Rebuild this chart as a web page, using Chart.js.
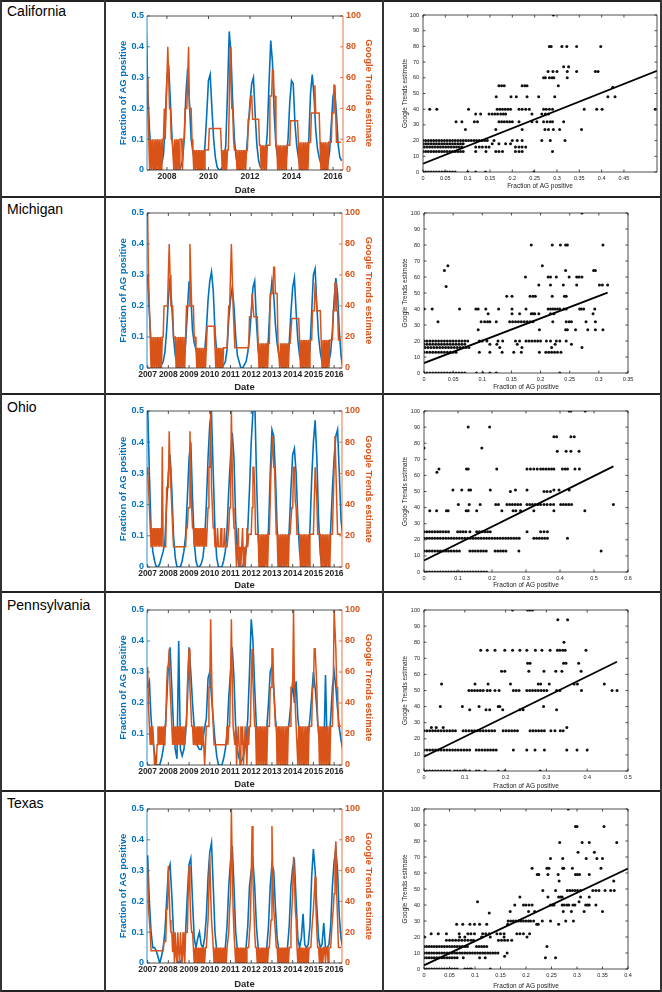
<!DOCTYPE html>
<html>
<head>
<meta charset="utf-8">
<script src="https://cdn.jsdelivr.net/npm/chart.js@4.4.1/dist/chart.umd.min.js"></script>
<style>
  html, body { margin: 0; padding: 0; background: #fff; }
  #page { position: relative; width: 662px; height: 992px; overflow: hidden; font-family: "Liberation Sans", Arial, sans-serif; }
  .hl { position: absolute; left: 0; width: 662px; height: 2px; background: #222; }
  .vl { position: absolute; top: 0; width: 2px; height: 992px; background: #333; }
  .state { position: absolute; left: 7px; font-size: 14px; line-height: 16px; color: #000; }
  canvas { position: absolute; }
</style>
</head>
<body>
<div id="page"></div>
<script>
// ── Weekly-ish series: AG fraction monthly, Trends half-monthly, from Jan 2007 ──
const YEAR0 = 2007;
const STATES = ["California", "Michigan", "Ohio", "Pennsylvania", "Texas"];

const caAG = [
  0.45,0.25,0.12,0.05,0.02,0.01,0.00,0.00,0.01,0.02,0.05,0.15,
  0.30,0.34,0.22,0.10,0.04,0.01,0.00,0.00,0.01,0.03,0.10,0.25,
  0.33,0.22,0.10,0.06,0.03,0.02,0.01,0.00,0.00,0.02,0.08,0.18,
  0.29,0.31,0.20,0.10,0.04,0.01,0.00,0.00,0.01,0.03,0.08,0.25,
  0.45,0.38,0.22,0.10,0.04,0.01,0.00,0.00,0.01,0.02,0.06,0.14,
  0.22,0.28,0.30,0.18,0.08,0.03,0.01,0.01,0.02,0.05,0.12,0.28,
  0.42,0.35,0.18,0.08,0.04,0.02,0.01,0.01,0.02,0.04,0.10,0.22,
  0.29,0.28,0.15,0.08,0.04,0.01,0.00,0.00,0.01,0.03,0.10,0.25,
  0.31,0.24,0.13,0.07,0.04,0.02,0.01,0.00,0.01,0.02,0.06,0.15,
  0.24,0.26,0.18,0.08,0.04,0.03
];
const caGT = [
  100,60,40,20,0,20,0,20,0,20,0,20,0,20,0,20,0,20,0,20,20,40,20,40,
  40,80,60,40,40,20,20,20,0,20,0,20,0,20,0,20,20,20,0,20,20,40,40,40,
  60,80,40,40,40,20,13,0,13,0,13,0,13,0,13,0,13,0,13,0,13,13,13,13,
  13,27,27,27,27,27,27,27,27,27,27,27,27,27,27,13,0,13,0,13,13,0,13,13,
  40,80,60,40,40,20,13,13,13,0,13,0,13,0,13,0,13,0,13,0,13,13,33,33,
  33,48,48,33,33,33,33,33,33,33,33,16,16,0,16,0,16,0,16,0,16,16,16,48,
  48,48,65,65,48,48,16,16,0,16,0,16,0,16,0,16,0,16,0,16,16,16,16,32,
  32,32,32,32,32,32,32,32,18,0,18,0,18,0,18,0,18,0,18,0,18,18,18,37,
  37,37,37,55,37,37,37,37,37,18,0,18,0,18,0,18,0,18,0,18,18,18,18,37,
  37,55,55,37,18,18,18,18,18,18
];

const miAG = [
  0.30,0.18,0.08,0.05,0.03,0.02,0.01,0.00,0.01,0.02,0.05,0.12,
  0.22,0.29,0.20,0.10,0.04,0.02,0.00,0.00,0.01,0.03,0.08,0.18,
  0.28,0.24,0.12,0.08,0.06,0.03,0.02,0.01,0.02,0.05,0.12,0.22,
  0.28,0.31,0.25,0.12,0.05,0.02,0.00,0.00,0.01,0.02,0.06,0.16,
  0.22,0.26,0.20,0.10,0.04,0.02,0.00,0.00,0.01,0.02,0.05,0.10,
  0.18,0.26,0.28,0.15,0.06,0.02,0.01,0.00,0.01,0.03,0.10,0.22,
  0.28,0.24,0.14,0.08,0.04,0.02,0.01,0.00,0.01,0.03,0.08,0.18,
  0.26,0.29,0.18,0.09,0.04,0.02,0.00,0.00,0.01,0.02,0.06,0.18,
  0.30,0.32,0.20,0.10,0.05,0.02,0.00,0.00,0.01,0.02,0.05,0.12,
  0.22,0.29,0.24,0.12,0.04,0.00
];
const miGT = [
  100,60,40,20,0,20,0,20,0,20,0,20,0,20,0,20,0,20,20,40,40,40,40,40,
  60,80,60,40,40,40,20,20,20,0,20,0,20,0,20,0,20,0,20,0,20,40,40,40,
  40,80,60,40,40,40,20,20,13,0,13,0,13,0,13,0,13,0,13,0,13,27,27,27,
  27,27,27,27,27,27,13,0,13,0,13,0,13,0,13,0,13,13,13,13,13,13,40,40,
  60,80,60,40,40,13,13,13,13,13,13,13,13,13,13,13,13,13,13,13,13,13,33,33,
  33,48,48,33,33,33,33,33,16,0,16,0,16,0,16,0,16,0,16,0,16,16,48,48,
  48,48,65,65,48,48,48,16,16,0,16,0,16,0,16,0,16,0,16,0,16,16,16,32,
  32,32,32,32,32,32,32,32,18,0,18,0,18,0,18,0,18,0,18,0,18,18,18,37,
  37,37,55,55,37,37,37,37,37,18,0,18,0,18,0,18,0,18,0,18,18,18,18,37,
  37,55,55,37,37,18,18,18,18,18
];

const ohAG = [
  0.52,0.30,0.12,0.05,0.02,0.00,0.00,0.01,0.03,0.05,0.08,0.20,
  0.30,0.36,0.25,0.10,0.03,0.00,0.00,0.00,0.02,0.05,0.10,0.22,
  0.35,0.40,0.22,0.08,0.02,0.00,0.00,0.01,0.03,0.08,0.20,0.35,
  0.46,0.49,0.30,0.12,0.03,0.00,0.00,0.00,0.02,0.05,0.12,0.25,
  0.35,0.43,0.35,0.15,0.04,0.00,0.00,0.00,0.02,0.05,0.12,0.25,
  0.40,0.50,0.55,0.30,0.10,0.02,0.00,0.00,0.02,0.05,0.12,0.30,
  0.44,0.42,0.30,0.12,0.04,0.00,0.00,0.00,0.02,0.05,0.12,0.25,
  0.36,0.38,0.30,0.15,0.05,0.01,0.00,0.00,0.02,0.05,0.12,0.28,
  0.40,0.47,0.35,0.15,0.04,0.00,0.00,0.00,0.02,0.05,0.12,0.25,
  0.35,0.42,0.44,0.30,0.15,0.10
];
const ohGT = [
  64,51,38,25,13,25,13,25,13,25,13,25,13,25,13,25,13,77,13,13,13,13,51,51,
  51,87,64,51,38,25,13,13,13,13,13,13,13,13,13,13,13,13,13,13,13,25,25,38,
  38,87,64,38,25,25,13,25,13,25,13,25,13,25,13,25,13,25,13,25,13,25,38,64,
  64,100,51,38,25,25,13,13,13,25,13,13,13,25,13,13,13,25,13,13,13,13,25,38,
  38,100,64,38,25,25,13,0,13,25,0,13,0,13,25,0,13,0,13,25,13,21,21,21,
  21,38,64,64,51,21,21,21,21,0,21,0,21,0,21,0,21,0,21,0,21,21,42,64,
  64,84,64,64,42,21,21,0,21,0,21,0,21,0,21,0,21,0,21,0,21,21,21,38,
  38,64,64,42,38,21,21,21,21,0,21,0,21,0,21,0,21,0,21,0,21,21,21,21,
  21,42,64,64,42,21,21,21,21,0,21,0,21,0,21,0,21,0,21,0,21,21,21,42,
  64,84,64,42,21,21,21,21,21,21
];

const paAG = [
  0.25,0.27,0.15,0.08,0.04,0.00,0.00,0.00,0.02,0.05,0.10,0.20,
  0.32,0.38,0.25,0.12,0.05,0.02,0.40,0.05,0.03,0.05,0.10,0.20,
  0.38,0.30,0.20,0.12,0.08,0.06,0.05,0.05,0.08,0.12,0.15,0.28,
  0.30,0.22,0.15,0.08,0.03,0.00,0.00,0.00,0.02,0.05,0.10,0.22,
  0.30,0.38,0.28,0.12,0.05,0.02,0.01,0.02,0.04,0.08,0.15,0.30,
  0.47,0.40,0.25,0.12,0.06,0.04,0.03,0.05,0.08,0.12,0.20,0.30,
  0.32,0.25,0.15,0.10,0.08,0.05,0.04,0.04,0.08,0.10,0.14,0.20,
  0.27,0.20,0.27,0.15,0.10,0.05,0.04,0.04,0.06,0.10,0.15,0.22,
  0.30,0.25,0.18,0.10,0.06,0.03,0.02,0.29,0.05,0.08,0.15,0.25,
  0.30,0.25,0.18,0.12,0.08,0.05
];
const paGT = [
  63,38,25,13,25,13,25,13,0,0,0,13,25,13,25,13,25,13,25,13,25,25,50,63,
  63,75,50,38,25,13,25,13,25,13,25,13,25,13,25,13,25,13,25,13,25,25,50,63,
  75,50,38,25,25,13,25,13,25,13,25,13,25,13,25,13,25,13,0,13,25,25,25,50,
  50,94,63,38,25,13,13,13,13,13,13,13,13,13,13,13,13,13,13,13,25,13,25,25,
  54,94,54,25,25,13,25,0,13,25,13,0,25,13,25,0,13,25,13,0,25,13,25,25,
  54,75,54,38,25,25,0,25,0,25,0,25,0,25,0,25,0,25,0,25,25,25,50,50,
  75,75,50,38,25,25,0,25,0,25,0,25,0,25,0,25,0,25,0,25,25,25,50,50,
  50,100,50,38,25,25,0,25,0,25,0,25,0,25,0,25,0,25,0,25,25,25,25,50,
  50,75,75,75,50,25,25,0,25,0,25,0,25,0,25,0,25,0,25,0,25,25,25,50,
  100,100,75,50,50,25,25,25,25,25
];

const txAG = [
  0.35,0.20,0.10,0.05,0.05,0.04,0.02,0.00,0.02,0.05,0.10,0.20,
  0.30,0.32,0.22,0.10,0.04,0.01,0.00,0.00,0.02,0.05,0.10,0.22,
  0.32,0.34,0.20,0.08,0.05,0.08,0.10,0.06,0.05,0.08,0.15,0.28,
  0.36,0.39,0.25,0.10,0.04,0.00,0.00,0.00,0.02,0.05,0.12,0.25,
  0.33,0.38,0.25,0.10,0.04,0.00,0.00,0.00,0.02,0.05,0.12,0.25,
  0.30,0.33,0.25,0.12,0.05,0.01,0.00,0.00,0.02,0.05,0.12,0.25,
  0.32,0.30,0.18,0.08,0.04,0.01,0.00,0.00,0.02,0.05,0.12,0.25,
  0.31,0.33,0.20,0.08,0.05,0.08,0.16,0.06,0.05,0.06,0.12,0.28,
  0.37,0.30,0.18,0.08,0.05,0.06,0.13,0.05,0.05,0.06,0.12,0.25,
  0.33,0.37,0.30,0.15,0.08,0.05
];
const txGT = [
  64,35,28,20,8,8,8,8,8,8,8,8,8,8,8,8,8,8,8,14,14,14,35,35,
  63,45,28,20,20,7,20,0,20,7,0,20,7,0,20,7,0,20,7,0,20,20,20,45,
  63,45,28,20,20,10,0,10,0,10,0,10,0,10,0,10,0,10,0,10,10,20,28,28,
  70,45,28,20,10,0,10,0,10,0,10,0,10,0,10,0,10,0,10,0,10,10,20,35,
  45,100,63,35,20,10,0,10,0,10,0,10,0,10,0,10,0,10,0,10,10,10,20,28,
  55,89,55,35,20,10,10,0,10,0,10,0,10,0,10,0,10,0,10,0,10,10,20,28,
  89,55,35,28,20,10,10,0,10,0,10,0,10,0,10,0,10,0,10,0,10,10,20,35,
  45,69,55,35,28,10,0,10,0,10,0,10,0,10,0,10,0,10,0,10,10,10,20,28,
  35,45,56,35,20,10,10,0,10,0,10,0,10,10,0,10,10,0,10,10,10,20,28,35,
  45,70,79,45,28,10,10,10,10,10
];

// ── Scatter points, grouped by Trends level: [trends, fraction, fraction, ...] ──
const caPairs = [
  [100, 0.292],
  [80, 0.283, 0.287, 0.311, 0.322, 0.344, 0.398],
  [67, 0.315, 0.326],
  [64, 0.280, 0.291, 0.300, 0.323, 0.344, 0.386, 0.392],
  [60, 0.270, 0.274, 0.283, 0.289, 0.293, 0.323],
  [55, 0.170, 0.176, 0.182, 0.222, 0.228, 0.233, 0.303],
  [54, 0.425],
  [48, 0.164, 0.197, 0.209, 0.233, 0.259, 0.295, 0.414, 0.430],
  [40, 0.015, 0.031, 0.102, 0.166, 0.172, 0.178, 0.184, 0.190, 0.196, 0.215, 0.222, 0.230, 0.238, 0.270, 0.276, 0.283, 0.290, 0.361, 0.389, 0.401, 0.520],
  [37, 0.118, 0.129, 0.148, 0.155, 0.161, 0.167, 0.174, 0.180, 0.185, 0.244, 0.266, 0.274, 0.281],
  [32, 0.074, 0.087, 0.115, 0.122, 0.170, 0.176, 0.182, 0.188, 0.194, 0.200, 0.215, 0.244, 0.255, 0.270, 0.278, 0.285, 0.290, 0.315],
  [27, 0.095, 0.163, 0.222, 0.273, 0.281, 0.292, 0.306, 0.355],
  [20, 0, 0.006, 0.012, 0.018, 0.024, 0.030, 0.036, 0.042, 0.048, 0.054, 0.060, 0.066, 0.072, 0.078, 0.084, 0.090, 0.096, 0.102, 0.108, 0.114, 0.120, 0.126, 0.132, 0.138, 0.144, 0.159, 0.200, 0.211, 0.222, 0.266, 0.285, 0.318],
  [18, 0, 0.006, 0.012, 0.018, 0.024, 0.030, 0.036, 0.042, 0.048, 0.054, 0.060, 0.066, 0.072, 0.078, 0.084, 0.090, 0.155, 0.170, 0.185, 0.196],
  [16, 0.003, 0.009, 0.015, 0.021, 0.027, 0.033, 0.039, 0.045, 0.051, 0.057, 0.063, 0.069, 0.075, 0.081, 0.087, 0.118, 0.126, 0.133, 0.141, 0.148, 0.207, 0.215, 0.222, 0.230],
  [13, 0, 0.006, 0.012, 0.018, 0.024, 0.030, 0.036, 0.042, 0.048, 0.054, 0.060, 0.066, 0.072, 0.078, 0.084, 0.090, 0.118, 0.141, 0.163, 0.170, 0.178, 0.207, 0.215, 0.222, 0.290],
  [0, 0, 0.006, 0.012, 0.018, 0.024, 0.030, 0.036, 0.042, 0.048, 0.054, 0.060, 0.066, 0.072, 0.100, 0.118, 0.140, 0.248]
];
const miPairs = [
  [100, 0.271],
  [80, 0.184, 0.220, 0.234, 0.243, 0.246, 0.307],
  [67, 0.041, 0.203],
  [64, 0.035, 0.243, 0.291, 0.294],
  [60, 0.174, 0.213, 0.217, 0.227, 0.249, 0.262, 0.266, 0.271],
  [55, 0.197, 0.217, 0.239, 0.262, 0.301, 0.306, 0.315],
  [54, 0.038],
  [48, 0.142, 0.151, 0.182, 0.187, 0.191, 0.220, 0.241, 0.244],
  [40, 0, 0.014, 0.061, 0.089, 0.093, 0.106, 0.128, 0.151, 0.175, 0.213, 0.217, 0.221, 0.225, 0.229, 0.233, 0.240, 0.244, 0.267, 0.270, 0.274, 0.293],
  [37, 0.110, 0.151, 0.164, 0.184, 0.187, 0.190, 0.197, 0.217, 0.223, 0.290],
  [32, 0.024, 0.098, 0.104, 0.109, 0.113, 0.124, 0.147, 0.152, 0.157, 0.162, 0.167, 0.172, 0.177, 0.182, 0.187, 0.221, 0.244, 0.249, 0.253, 0.278, 0.294],
  [27, 0.093, 0.198, 0.243, 0.246, 0.260, 0.281, 0.294, 0.307],
  [20, 0, 0.005, 0.010, 0.015, 0.020, 0.025, 0.030, 0.035, 0.040, 0.045, 0.050, 0.055, 0.060, 0.065, 0.070, 0.075, 0.095, 0.100, 0.108, 0.127, 0.135, 0.157, 0.164, 0.175, 0.180, 0.185, 0.190, 0.195, 0.200, 0.210, 0.217, 0.227, 0.233, 0.244],
  [18, 0, 0.005, 0.010, 0.015, 0.020, 0.025, 0.030, 0.035, 0.040, 0.045, 0.050, 0.055, 0.060, 0.065, 0.070, 0.113, 0.125, 0.160, 0.225, 0.253],
  [16, 0.002, 0.007, 0.012, 0.017, 0.022, 0.027, 0.032, 0.037, 0.042, 0.047, 0.052, 0.057, 0.062, 0.067, 0.072, 0.077, 0.130, 0.168, 0.219, 0.271],
  [13, 0, 0.005, 0.010, 0.015, 0.020, 0.025, 0.030, 0.035, 0.040, 0.045, 0.050, 0.055, 0.095, 0.113, 0.134, 0.154, 0.167, 0.198, 0.209, 0.214, 0.219, 0.224, 0.229, 0.235],
  [0, 0, 0.005, 0.010, 0.015, 0.020, 0.025, 0.030, 0.035, 0.040, 0.045, 0.050, 0.055, 0.060, 0.065, 0.070, 0.090, 0.101, 0.113, 0.124, 0.233]
];
const ohPairs = [
  [100, 0.427, 0.432, 0.474],
  [90, 0.130, 0.193],
  [84, 0.382, 0.390, 0.432, 0.442],
  [77, 0, 0.170],
  [75, 0.392, 0.418, 0.432, 0.456],
  [64, 0.044, 0.125, 0.130, 0.214, 0.303, 0.313, 0.323, 0.333, 0.343, 0.351, 0.359, 0.367, 0.375, 0.382, 0.407, 0.415, 0.422, 0.444, 0.457],
  [62, 0.038],
  [51, 0.085, 0.111, 0.132, 0.137, 0.195, 0.269, 0.303, 0.382, 0.397, 0.427],
  [50, 0.254, 0.353, 0.362, 0.372],
  [42, 0.101, 0.133, 0.165, 0.211, 0.219, 0.244, 0.252, 0.260, 0.268, 0.276, 0.284, 0.303, 0.311, 0.319, 0.327, 0.335, 0.343, 0.353, 0.362, 0.372, 0.381, 0.402, 0.410, 0.418, 0.426, 0.434, 0.557],
  [38, 0.017, 0.037, 0.066, 0.071, 0.124, 0.130, 0.155, 0.229, 0.262, 0.270, 0.284, 0.323, 0.382, 0.473],
  [25, 0, 0.008, 0.016, 0.024, 0.032, 0.040, 0.048, 0.056, 0.064, 0.072, 0.099, 0.107, 0.115, 0.123, 0.135, 0.155, 0.163, 0.171, 0.179, 0.187, 0.195, 0.303, 0.343, 0.353, 0.363],
  [21, 0, 0.008, 0.016, 0.024, 0.032, 0.040, 0.048, 0.056, 0.064, 0.072, 0.080, 0.088, 0.096, 0.104, 0.112, 0.120, 0.128, 0.136, 0.144, 0.152, 0.160, 0.168, 0.176, 0.184, 0.192, 0.200, 0.208, 0.216, 0.224, 0.232, 0.240, 0.248, 0.256, 0.264, 0.272, 0.280, 0.323, 0.331, 0.339, 0.347, 0.355, 0.363, 0.422],
  [13, 0, 0.008, 0.016, 0.024, 0.032, 0.040, 0.048, 0.056, 0.064, 0.072, 0.080, 0.088, 0.096, 0.104, 0.135, 0.143, 0.151, 0.159, 0.167, 0.175, 0.183, 0.209, 0.217, 0.225, 0.233, 0.241, 0.279, 0.521],
  [0, 0, 0.008, 0.016, 0.024, 0.032, 0.040, 0.048, 0.056, 0.064, 0.072, 0.080, 0.088, 0.096, 0.104, 0.112, 0.120, 0.128, 0.136, 0.144, 0.152, 0.160, 0.168, 0.176, 0.184]
];
const paPairs = [
  [100, 0.217, 0.254, 0.260, 0.266],
  [94, 0.328, 0.352],
  [80, 0.343],
  [75, 0.139, 0.155, 0.174, 0.198, 0.217, 0.235, 0.252, 0.273, 0.289, 0.309, 0.327, 0.333, 0.340, 0.346, 0.397],
  [67, 0.254, 0.260, 0.342, 0.348, 0.379],
  [62, 0.190, 0.198, 0.257, 0.294, 0.323, 0.338, 0.385],
  [54, 0.043, 0.125, 0.157, 0.212, 0.280, 0.286, 0.307, 0.368, 0.376, 0.442],
  [50, 0.110, 0.117, 0.124, 0.131, 0.138, 0.145, 0.155, 0.162, 0.174, 0.184, 0.219, 0.226, 0.233, 0.252, 0.259, 0.266, 0.273, 0.280, 0.287, 0.294, 0.301, 0.325, 0.333, 0.386, 0.461, 0.473],
  [40, 0.040, 0.094, 0.135, 0.182, 0.186, 0.293],
  [38, 0.112, 0.152, 0.161, 0.193, 0.235, 0.243, 0.325],
  [27, 0.018, 0.030, 0.047, 0.350],
  [25, 0, 0.007, 0.014, 0.021, 0.028, 0.035, 0.042, 0.049, 0.056, 0.063, 0.070, 0.077, 0.096, 0.103, 0.110, 0.117, 0.124, 0.131, 0.138, 0.145, 0.152, 0.159, 0.166, 0.173, 0.194, 0.201, 0.208, 0.215, 0.222, 0.229, 0.260, 0.267, 0.274, 0.281, 0.288, 0.295, 0.311, 0.321, 0.334, 0.341],
  [13, 0, 0.007, 0.014, 0.021, 0.028, 0.035, 0.042, 0.049, 0.056, 0.063, 0.070, 0.077, 0.084, 0.091, 0.098, 0.105, 0.112, 0.128, 0.135, 0.142, 0.149, 0.156, 0.163, 0.170, 0.177, 0.219, 0.252, 0.272, 0.295, 0.350, 0.375, 0.400],
  [0, 0, 0.007, 0.014, 0.021, 0.028, 0.035, 0.042, 0.049, 0.056, 0.063, 0.075, 0.082, 0.089, 0.096, 0.103, 0.112, 0.128, 0.135, 0.150, 0.182, 0.198, 0.285]
];
const txPairs = [
  [100, 0.283],
  [89, 0.297, 0.300, 0.353],
  [79, 0.266, 0.310, 0.324, 0.378],
  [73, 0.302, 0.334],
  [69, 0.248, 0.272, 0.318, 0.339, 0.350],
  [63, 0.212, 0.241, 0.245, 0.272, 0.274, 0.291, 0.347],
  [59, 0.222, 0.225, 0.243, 0.263, 0.297, 0.301, 0.305, 0.324],
  [55, 0.265, 0.372],
  [49, 0.233, 0.258, 0.281, 0.286, 0.291, 0.296, 0.301, 0.307, 0.331, 0.337, 0.343, 0.355, 0.366, 0.373],
  [45, 0.188, 0.243, 0.264, 0.268, 0.271, 0.307, 0.324],
  [42, 0.105, 0.304],
  [40, 0.178, 0.195, 0.200, 0.206, 0.212, 0.248, 0.252, 0.255, 0.271, 0.275, 0.280, 0.284, 0.292, 0.296, 0.317, 0.321, 0.324, 0.337],
  [36, 0.169, 0.205, 0.217, 0.273, 0.289, 0.314, 0.350],
  [35, 0.128],
  [30, 0.165, 0.170, 0.175, 0.180, 0.185, 0.190, 0.195, 0.200, 0.205, 0.209, 0.215, 0.232, 0.248, 0.278, 0.293],
  [28, 0.064, 0.076, 0.090, 0.099, 0.109, 0.123, 0.164, 0.221, 0.224, 0.264],
  [22, 0.014, 0.028, 0.044, 0.069, 0.086, 0.092, 0.099, 0.115, 0.121, 0.128, 0.143, 0.150, 0.157, 0.182, 0.188, 0.195, 0.207],
  [20, 0.001, 0.070, 0.080, 0.113, 0.130, 0.157, 0.202],
  [18, 0.044, 0.050, 0.056, 0.062, 0.068, 0.074, 0.080, 0.086, 0.092, 0.097, 0.146, 0.152, 0.158, 0.164, 0.172],
  [14, 0, 0.005, 0.010, 0.015, 0.020, 0.025, 0.030, 0.035, 0.040, 0.045, 0.050, 0.055, 0.060, 0.065, 0.070, 0.075, 0.080, 0.085, 0.103, 0.108, 0.113, 0.118, 0.123, 0.241],
  [10, 0, 0.005, 0.010, 0.015, 0.020, 0.025, 0.030, 0.035, 0.040, 0.045, 0.050, 0.055, 0.060, 0.065, 0.070, 0.075, 0.080, 0.085, 0.090, 0.095, 0.100, 0.105, 0.110, 0.115, 0.120, 0.125, 0.130, 0.135, 0.140, 0.145, 0.163],
  [8, 0.158],
  [7, 0, 0.005, 0.010, 0.015, 0.020, 0.025, 0.030, 0.035, 0.040, 0.045, 0.050, 0.055, 0.060, 0.065, 0.077, 0.109, 0.120, 0.238, 0.258],
  [0, 0, 0.005, 0.010, 0.015, 0.020, 0.025, 0.030, 0.035, 0.040, 0.045, 0.050, 0.055, 0.060, 0.065, 0.080, 0.085, 0.090, 0.093, 0.130]
];

// least-squares line per state: intercept, slope, last fraction it is drawn to
const fitIntercept = [5.3, 6.2, 7.2, 8.9, 2.3];
const fitSlope = [113, 139.7, 104.8, 124.7, 151.3];
const fitXEnd = [0.524, 0.315, 0.557, 0.473, 0.40];

// tick labels
const caYearTicks = [2008, 2010, 2012, 2014, 2016];
const yearTicks = [2007, 2008, 2009, 2010, 2011, 2012, 2013, 2014, 2015, 2016];
const agTicks = [0, 0.1, 0.2, 0.3, 0.4, 0.5];
const gtTicks = [0, 20, 40, 60, 80, 100];
const trendTicks = [0, 10, 20, 30, 40, 50, 60, 70, 80, 90, 100];
const caFracTicks = [0, 0.05, 0.1, 0.15, 0.2, 0.25, 0.3, 0.35, 0.4, 0.45];
const miFracTicks = [0, 0.05, 0.1, 0.15, 0.2, 0.25, 0.3, 0.35];
const ohFracTicks = [0, 0.1, 0.2, 0.3, 0.4, 0.5, 0.6];
const paFracTicks = [0, 0.1, 0.2, 0.3, 0.4, 0.5];
const txFracTicks = [0, 0.05, 0.1, 0.15, 0.2, 0.25, 0.3, 0.35, 0.4];

// ── Page layout (table grid and plot boxes, in page pixels) ──
const ROW_TOP = [0, 198, 396, 594, 792];
const ROW_BOTTOM = [196, 393, 591, 790, 990];
const TS_PLOT = [[147, 16, 343, 170], [147, 213, 342, 368], [147, 411, 342, 567], [147, 610, 342, 765], [147, 809, 342, 963]];
const SC_PLOT = [[423, 15, 657, 172], [424, 213, 628, 373], [424, 411, 628, 572], [424, 610, 628, 771], [424, 809, 628, 969]];
const SC_TITLE_PAD = [5.4, 1.4, 1.4, 0, 0];

const BLUE = "#0072BD";
const ORANGE = "#D95319";
const INK = "#262626";
const FONT = '"Liberation Sans", Arial, sans-serif';
Chart.defaults.font.family = FONT;

const page = document.getElementById("page");

function addDiv(cls, style, text) {
  const d = document.createElement("div");
  d.className = cls;
  d.style.cssText = style;
  if (text) d.textContent = text;
  page.appendChild(d);
}

[0, 196, 393, 591, 790, 990].forEach((y) => addDiv("hl", `top:${y}px`));
[0, 104, 382, 660].forEach((x) => addDiv("vl", `left:${x}px`));
STATES.forEach((s, i) => addDiv("state", `top:${ROW_TOP[i] + 3}px`, s));

function placeCanvas(x, y, w, h) {
  const c = document.createElement("canvas");
  c.width = w;
  c.height = h;
  c.style.cssText = `left:${x}px;top:${y}px;width:${w}px;height:${h}px`;
  page.appendChild(c);
  return c;
}

// box around the plot with short inward ticks, MATLAB style
const framePlugin = {
  id: "frame",
  afterDatasetsDraw(chart, args, o) {
    const { ctx, chartArea: a, scales } = chart;
    const seg = (x1, y1, x2, y2, c) => {
      ctx.strokeStyle = c;
      ctx.beginPath();
      ctx.moveTo(x1, y1);
      ctx.lineTo(x2, y2);
      ctx.stroke();
    };
    const L = o.tick;
    ctx.save();
    ctx.lineWidth = o.width;
    scales.x.ticks.forEach((tk) => {
      const p = scales.x.getPixelForValue(tk.value);
      seg(p, a.bottom, p, a.bottom - L, o.bottom);
      seg(p, a.top, p, a.top + L, o.top);
    });
    scales.y.ticks.forEach((tk) => {
      const p = scales.y.getPixelForValue(tk.value);
      seg(a.left, p, a.left + L, p, o.left);
      if (o.rightAxis === "y") seg(a.right, p, a.right - L, p, o.right);
    });
    if (o.rightAxis === "y2") {
      scales.y2.ticks.forEach((tk) => {
        const p = scales.y2.getPixelForValue(tk.value);
        seg(a.right, p, a.right - L, p, o.right);
      });
    }
    seg(a.left, a.top, a.right, a.top, o.top);
    seg(a.left, a.bottom, a.right, a.bottom, o.bottom);
    seg(a.left, a.top, a.left, a.bottom, o.left);
    seg(a.right, a.top, a.right, a.bottom, o.right);
    ctx.restore();
  },
};

const fixedTicks = (vals) => (s) => {
  s.ticks = vals.map((v) => ({ value: v }));
};
const NO_GRID = { display: false, drawTicks: false, tickLength: 0 };

function drawSeries(i, ag, gt, xMin, xMax, years) {
  const [l, t, r, b] = TS_PLOT[i];
  const cx = 106, cw = 276;
  const cy = ROW_TOP[i] + 2, ch = ROW_BOTTOM[i] - cy;
  const cv = placeCanvas(cx, cy, cw, ch);
  new Chart(cv, {
    type: "line",
    data: {
      datasets: [
        {
          data: gt.map((v, k) => ({ x: YEAR0 + k / 24, y: v })),
          yAxisID: "y2",
          borderColor: ORANGE,
          borderWidth: 1.5,
          pointRadius: 0,
          order: 0,
        },
        {
          data: ag.map((v, k) => ({ x: YEAR0 + k / 12, y: v })),
          yAxisID: "y",
          borderColor: BLUE,
          borderWidth: 1.6,
          pointRadius: 0,
          order: 1,
        },
      ],
    },
    options: {
      responsive: false,
      animation: false,
      events: [],
      layout: { autoPadding: false, padding: { top: t - cy, left: 0, right: 0, bottom: 0 } },
      plugins: {
        legend: { display: false },
        tooltip: { enabled: false },
        frame: { width: 0.8, tick: 3, top: INK, bottom: INK, left: BLUE, right: ORANGE, rightAxis: "y2" },
      },
      scales: {
        x: {
          type: "linear",
          min: xMin,
          max: xMax,
          grid: NO_GRID,
          border: { display: false },
          afterBuildTicks: fixedTicks(years),
          afterFit: (s) => { s.height = cy + ch - b; },
          ticks: { color: INK, padding: 2, maxRotation: 0, minRotation: 0, autoSkip: false, font: { size: 8.5, weight: "bold" }, callback: (v) => String(v) },
          title: { display: true, text: "Date", color: INK, font: { size: 9.5, weight: "bold" }, padding: 0 },
        },
        y: {
          position: "left",
          min: 0,
          max: 0.5,
          grid: NO_GRID,
          border: { display: false },
          afterBuildTicks: fixedTicks(agTicks),
          afterFit: (s) => { s.width = l - cx; },
          ticks: { color: BLUE, padding: 3, font: { size: 9, weight: "bold" }, callback: (v) => String(v) },
          title: { display: true, text: "Fraction of AG positive", color: BLUE, font: { size: 9.5, weight: "bold" }, padding: { top: 12, bottom: 0 } },
        },
        y2: {
          position: "right",
          min: 0,
          max: 100,
          grid: NO_GRID,
          border: { display: false },
          afterBuildTicks: fixedTicks(gtTicks),
          afterFit: (s) => { s.width = cx + cw - r; },
          ticks: { color: ORANGE, padding: 3, font: { size: 9, weight: "bold" }, callback: (v) => String(v) },
          title: { display: true, text: "Google Trends estimate", color: ORANGE, font: { size: 9.5, weight: "bold" }, padding: { top: 8, bottom: 0 } },
        },
      },
    },
    plugins: [framePlugin],
  });
}

function drawScatter(i, pairs, xMax, xTicks) {
  const [l, t, r, b] = SC_PLOT[i];
  const cx = 384, cw = 276;
  const cy = ROW_TOP[i] + 2, ch = ROW_BOTTOM[i] - cy;
  const cv = placeCanvas(cx, cy, cw, ch);
  const pts = [];
  pairs.forEach((row) => row.slice(1).forEach((x) => pts.push({ x: x, y: row[0] })));
  const b0 = fitIntercept[i], b1 = fitSlope[i], xe = fitXEnd[i];
  new Chart(cv, {
    type: "scatter",
    data: {
      datasets: [
        {
          type: "line",
          data: [{ x: 0, y: b0 }, { x: xe, y: b0 + b1 * xe }],
          borderColor: "#000",
          borderWidth: 1.8,
          pointRadius: 0,
          order: 0,
        },
        {
          data: pts,
          pointRadius: 1.5,
          pointBackgroundColor: "#111",
          pointBorderWidth: 0,
          order: 1,
        },
      ],
    },
    options: {
      responsive: false,
      animation: false,
      events: [],
      layout: { autoPadding: false, padding: { top: t - cy, left: 0, right: cx + cw - r, bottom: 0 } },
      plugins: {
        legend: { display: false },
        tooltip: { enabled: false },
        frame: { width: 0.8, tick: 2.5, top: "#222", bottom: "#222", left: "#222", right: "#222", rightAxis: "y" },
      },
      scales: {
        x: {
          type: "linear",
          min: 0,
          max: xMax,
          grid: NO_GRID,
          border: { display: false },
          afterBuildTicks: fixedTicks(xTicks),
          afterFit: (s) => { s.height = cy + ch - b; },
          ticks: { color: "#222", padding: 3, maxRotation: 0, minRotation: 0, autoSkip: false, font: { size: 5.5 }, callback: (v) => String(v) },
          title: { display: true, text: "Fraction of AG positive", color: "#222", font: { size: 6.5 }, padding: { top: 0, bottom: SC_TITLE_PAD[i] } },
        },
        y: {
          min: 0,
          max: 100,
          grid: NO_GRID,
          border: { display: false },
          afterBuildTicks: fixedTicks(trendTicks),
          afterFit: (s) => { s.width = l - cx; },
          ticks: { color: "#222", padding: 4, font: { size: 5.5 }, callback: (v) => String(v) },
          title: { display: true, text: "Google Trends estimate", color: "#222", font: { size: 6.5 }, padding: { top: 17, bottom: 0 } },
        },
      },
    },
    plugins: [framePlugin],
  });
}

drawSeries(0, caAG, caGT, 2007.04, 2016.48, caYearTicks);
drawSeries(1, miAG, miGT, 2006.97, 2016.38, yearTicks);
drawSeries(2, ohAG, ohGT, 2006.97, 2016.38, yearTicks);
drawSeries(3, paAG, paGT, 2006.97, 2016.38, yearTicks);
drawSeries(4, txAG, txGT, 2006.97, 2016.38, yearTicks);

drawScatter(0, caPairs, 0.524, caFracTicks);
drawScatter(1, miPairs, 0.35, miFracTicks);
drawScatter(2, ohPairs, 0.6, ohFracTicks);
drawScatter(3, paPairs, 0.5, paFracTicks);
drawScatter(4, txPairs, 0.4, txFracTicks);
</script>
</body>
</html>
